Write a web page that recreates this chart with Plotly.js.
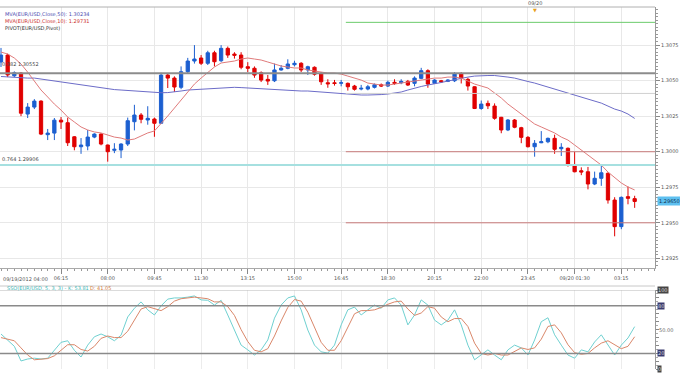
<!DOCTYPE html>
<html><head><meta charset="utf-8">
<script src="https://cdn.plot.ly/plotly-3.0.1.min.js"></script>
<style>html,body{margin:0;padding:0;background:#fff}#c{width:680px;height:374px}</style>
</head><body><div id="c"></div>
<script>
const tickIdx = [9,16,23,30,37,44,51,58,65,72,79,86,93];
const tickText = ['06:15','08:00','09:45','11:30','13:15','15:00','16:45','18:30','20:15','22:00','23:45','09/20 01:30','03:15'];
const firstLabel = '09/19/2012 04:00';
const priceTicks = [1.2925, 1.2950, 1.2975, 1.3000, 1.3025, 1.3050, 1.3075];

const openP = [1.30631,1.30680,1.30534,1.30553,1.30265,1.30314,1.30356,1.30120,1.30131,1.30222,
1.30204,1.30105,1.30035,1.30040,1.30103,1.30124,1.30047,1.30010,1.30012,1.30054,
1.30211,1.30258,1.30223,1.30230,1.30200,1.30539,1.30518,1.30453,1.30563,1.30638,
1.30659,1.30622,1.30696,1.30640,1.30727,1.30687,1.30680,1.30598,1.30587,1.30556,
1.30509,1.30499,1.30575,1.30587,1.30612,1.30622,1.30575,1.30594,1.30551,1.30485,
1.30485,1.30482,1.30481,1.30462,1.30441,1.30441,1.30453,1.30471,1.30462,1.30488,
1.30485,1.30495,1.30481,1.30516,1.30570,1.30481,1.30499,1.30495,1.30499,1.30546,
1.30509,1.30457,1.30304,1.30340,1.30321,1.30242,1.30153,1.30223,1.30169,1.30101,
1.30035,1.30063,1.30070,1.30094,1.30021,1.30024,1.29906,1.29866,1.29859,1.29773,
1.29813,1.29848,1.29660,1.29473,1.29684,1.29670];
const closeP = [1.30680,1.30540,1.30556,1.30271,1.30314,1.30356,1.30124,1.30131,1.30222,1.30209,
1.30063,1.30035,1.30047,1.30103,1.30124,1.30054,1.30000,1.30017,1.30054,1.30218,
1.30258,1.30228,1.30235,1.30200,1.30539,1.30518,1.30455,1.30563,1.30638,1.30652,
1.30622,1.30696,1.30633,1.30727,1.30680,1.30678,1.30594,1.30587,1.30539,1.30504,
1.30497,1.30575,1.30587,1.30617,1.30622,1.30575,1.30598,1.30545,1.30492,1.30478,
1.30480,1.30485,1.30457,1.30439,1.30446,1.30457,1.30471,1.30462,1.30488,1.30481,
1.30495,1.30469,1.30518,1.30570,1.30476,1.30504,1.30492,1.30504,1.30546,1.30516,
1.30462,1.30304,1.30335,1.30323,1.30235,1.30153,1.30223,1.30172,1.30101,1.30035,
1.30059,1.30070,1.30094,1.30017,1.30031,1.29906,1.29859,1.29857,1.29773,1.29813,
1.29852,1.29660,1.29473,1.29679,1.29672,1.29650];
const highP = [1.30730,1.30690,1.30565,1.30560,1.30342,1.30370,1.30362,1.30160,1.30237,1.30244,
1.30240,1.30110,1.30096,1.30153,1.30130,1.30130,1.30050,1.30060,1.30060,1.30240,
1.30330,1.30272,1.30320,1.30240,1.30555,1.30550,1.30530,1.30600,1.30660,1.30750,
1.30680,1.30710,1.30710,1.30750,1.30740,1.30700,1.30700,1.30630,1.30600,1.30565,
1.30540,1.30620,1.30610,1.30650,1.30640,1.30630,1.30605,1.30600,1.30560,1.30510,
1.30505,1.30505,1.30487,1.30470,1.30470,1.30470,1.30480,1.30480,1.30500,1.30510,
1.30510,1.30505,1.30530,1.30590,1.30580,1.30510,1.30505,1.30510,1.30560,1.30560,
1.30520,1.30460,1.30360,1.30360,1.30340,1.30245,1.30230,1.30230,1.30175,1.30110,
1.30082,1.30145,1.30100,1.30120,1.30060,1.30030,1.30000,1.29890,1.29893,1.29860,
1.29900,1.29855,1.29680,1.29685,1.29755,1.29690];
const lowP = [1.30596,1.30525,1.30525,1.30250,1.30237,1.30300,1.30117,1.30082,1.30082,1.30160,
1.30040,1.30010,1.29985,1.30010,1.30095,1.30045,1.29930,1.29990,1.29955,1.30040,
1.30150,1.30200,1.30190,1.30105,1.30195,1.30448,1.30420,1.30440,1.30550,1.30620,
1.30610,1.30610,1.30600,1.30630,1.30660,1.30655,1.30580,1.30560,1.30520,1.30490,
1.30470,1.30490,1.30570,1.30580,1.30600,1.30560,1.30540,1.30535,1.30470,1.30450,
1.30465,1.30460,1.30430,1.30430,1.30432,1.30432,1.30445,1.30455,1.30455,1.30470,
1.30475,1.30462,1.30460,1.30510,1.30450,1.30478,1.30485,1.30490,1.30490,1.30480,
1.30430,1.30300,1.30295,1.30300,1.30225,1.30130,1.30145,1.30165,1.30060,1.30030,
1.29965,1.30060,1.30060,1.29985,1.29970,1.29895,1.29855,1.29835,1.29735,1.29765,
1.29760,1.29635,1.29405,1.29455,1.29630,1.29605];
const ma10 = [1.30701,1.30687,1.30659,1.30617,1.30560,1.30497,1.30434,1.30385,1.30335,1.30293,
1.30244,1.30209,1.30174,1.30153,1.30139,1.30132,1.30117,1.30103,1.30096,1.30082,
1.30089,1.30110,1.30132,1.30146,1.30195,1.30251,1.30307,1.30364,1.30420,1.30476,
1.30518,1.30560,1.30596,1.30624,1.30631,1.30638,1.30652,1.30659,1.30652,1.30645,
1.30631,1.30617,1.30603,1.30596,1.30589,1.30589,1.30575,1.30568,1.30560,1.30553,
1.30553,1.30546,1.30532,1.30518,1.30504,1.30483,1.30476,1.30469,1.30469,1.30476,
1.30483,1.30490,1.30497,1.30504,1.30511,1.30518,1.30518,1.30525,1.30525,1.30518,
1.30497,1.30476,1.30462,1.30448,1.30413,1.30378,1.30335,1.30300,1.30265,1.30230,
1.30195,1.30174,1.30153,1.30132,1.30103,1.30082,1.30047,1.30012,1.29977,1.29942,
1.29906,1.29857,1.29815,1.29780,1.29752,1.29731];
const ma50 = [1.30529,1.30525,1.30525,1.30522,1.30518,1.30518,1.30511,1.30504,1.30497,1.30490,
1.30483,1.30476,1.30469,1.30462,1.30455,1.30448,1.30441,1.30437,1.30434,1.30430,
1.30427,1.30423,1.30420,1.30416,1.30415,1.30416,1.30420,1.30427,1.30434,1.30437,
1.30441,1.30444,1.30448,1.30451,1.30453,1.30453,1.30451,1.30448,1.30448,1.30444,
1.30441,1.30437,1.30434,1.30434,1.30430,1.30427,1.30427,1.30423,1.30420,1.30416,
1.30413,1.30409,1.30406,1.30402,1.30399,1.30399,1.30399,1.30402,1.30406,1.30413,
1.30420,1.30434,1.30448,1.30459,1.30469,1.30476,1.30487,1.30497,1.30508,1.30518,
1.30525,1.30532,1.30536,1.30536,1.30536,1.30532,1.30525,1.30518,1.30504,1.30494,
1.30483,1.30469,1.30455,1.30441,1.30427,1.30413,1.30399,1.30385,1.30371,1.30357,
1.30342,1.30321,1.30300,1.30286,1.30265,1.30234];
const stochK = [44.5,37,29,10.5,13,14,13,14,24,34,
36,24,15.5,30.5,41,44.5,41,36,43,66,
77,85,75,68.5,80,88.5,90,90,91,92.5,
87.5,87,81,87,68.5,49.5,30.5,24.5,18,24.5,
37,64.5,81,90,92.5,75,49.5,30.5,22,20.5,
30.5,56,75,78.5,68.5,75,81,77,87.5,90,
81,56,68.5,87.5,81,62,56,62,75,56,
30.5,12,18,24.5,18,12,24.5,30.5,27,18,
37,60,65,43.5,30.5,18,14,24.5,22,34.5,
43.5,30.5,18,30.5,39.5,53.81];
const stochD = [40,38,36,27,18,12,13,13.5,17,24,
31,31,25,23,29,39,42,40,40,48,
62,76,79,76,74,79,86,89,90,91,
90,89,85,85,79,68,50,35,24,22,
26,42,61,78,88,86,72,52,34,24,
24,36,54,70,74,74,75,78,82,85,
86,76,68,71,79,77,66,60,64,64,
54,33,20,18,20,18,18,22,27,25,
27,38,54,56,46,31,21,19,20,27,
33,36,31,26,29,41.05];
const fibLevels = [1.30552, 1.29906];
const fibNames = ['0.382', '0.764'];
const pivotLevels = [1.30910, 1.30410, 1.30000, 1.29500];
const lastPrice = 1.29650;

const idx = closeP.map((_, i) => i);
const W = 680, H = 374, PW = 655;
const px = x => x / PW, py = y => 1 - y / H;
const F = 'DejaVu Sans';

const traces = [
  {type:'candlestick', x:idx, open:openP, high:highP, low:lowP, close:closeP, xaxis:'x', yaxis:'y',
   increasing:{line:{color:'#1c5fd0',width:1}, fillcolor:'#1c5fd0'},
   decreasing:{line:{color:'#e00000',width:1}, fillcolor:'#e00000'},
   whiskerwidth:0, hoverinfo:'skip', showlegend:false},
  {type:'scatter', mode:'lines', x:idx, y:ma50, line:{color:'#6c6cc8',width:1}, xaxis:'x', yaxis:'y', showlegend:false},
  {type:'scatter', mode:'lines', x:idx, y:ma10, line:{color:'#e07b7b',width:1}, xaxis:'x', yaxis:'y', showlegend:false},
  {type:'scatter', mode:'lines', x:idx, y:stochK, line:{color:'#6fd0d0',width:1}, xaxis:'x2', yaxis:'y2', showlegend:false},
  {type:'scatter', mode:'lines', x:idx, y:stochD, line:{color:'#d9876a',width:1}, xaxis:'x2', yaxis:'y2', showlegend:false}
];

const xr = [-0.15, 98.05];
const shapes = [
  {type:'line', xref:'paper', yref:'paper', x0:0, x1:1, y0:py(7), y1:py(7), line:{color:'#b0b0b0',width:1}},
  {type:'line', xref:'paper', yref:'paper', x0:0, x1:1, y0:py(286), y1:py(286), line:{color:'#c8c8c8',width:1}},
  {type:'line', xref:'paper', yref:'y', x0:0, x1:1, y0:fibLevels[0], y1:fibLevels[0], line:{color:'#8c8c8c',width:2}},
  {type:'line', xref:'paper', yref:'y', x0:0, x1:1, y0:fibLevels[1], y1:fibLevels[1], line:{color:'#a6e0e0',width:2}},
  {type:'line', xref:'x', yref:'y', x0:51.7, x1:xr[1], y0:pivotLevels[0], y1:pivotLevels[0], line:{color:'#6ccc6c',width:1}},
  {type:'line', xref:'x', yref:'y', x0:51.7, x1:xr[1], y0:pivotLevels[1], y1:pivotLevels[1], line:{color:'#d0d0d0',width:1}},
  {type:'line', xref:'x', yref:'y', x0:51.7, x1:xr[1], y0:pivotLevels[2], y1:pivotLevels[2], line:{color:'#c87a7a',width:1}},
  {type:'line', xref:'x', yref:'y', x0:51.7, x1:xr[1], y0:pivotLevels[3], y1:pivotLevels[3], line:{color:'#c87a7a',width:1}},
  {type:'line', xref:'paper', yref:'y2', x0:0, x1:1, y0:80, y1:80, line:{color:'#8a8a8a',width:1.5}},
  {type:'line', xref:'paper', yref:'y2', x0:0, x1:1, y0:20, y1:20, line:{color:'#8a8a8a',width:1.5}},
  {type:'line', xref:'paper', yref:'y2', x0:0, x1:1, y0:100, y1:100, line:{color:'#b8b8b8',width:1}}
];

const ann = (x, y, text, color, extra) => Object.assign({xref:'paper', yref:'paper', x:px(x), y:py(y), text, showarrow:false,
  xanchor:'left', yanchor:'middle', font:{family:F, size:5, color}}, extra || {});
const annotations = [
  ann(3, 14, 'MVA(EUR/USD,Close,50): ' + ma50[ma50.length-1].toFixed(5), '#4a4ab0'),
  ann(3, 21, 'MVA(EUR/USD,Close,10): ' + ma10[ma10.length-1].toFixed(5), '#cc3030'),
  ann(3, 28, 'PIVOT(EUR/USD,Pivot)', '#303030'),
  {xref:'paper', yref:'y', x:0, y:fibLevels[0], yshift:4, text:fibNames[0] + ' ' + fibLevels[0].toFixed(5), showarrow:false, xanchor:'left', yanchor:'bottom', font:{family:F,size:5,color:'#444'}},
  {xref:'paper', yref:'y', x:0, y:fibLevels[1], yshift:1, text:fibNames[1] + ' ' + fibLevels[1].toFixed(5), showarrow:false, xanchor:'left', yanchor:'bottom', font:{family:F,size:5,color:'#444'}},
  ann(1, 279, firstLabel, '#555'),
  ann(535, 3, '09/20', '#555', {xanchor:'center'}),
  ann(535, 10, '▼', '#e8a020', {xanchor:'center', font:{family:F,size:5,color:'#e8a020'}}),
  {xref:'paper', yref:'y', x:px(657), y:lastPrice, text:lastPrice.toFixed(5), showarrow:false, xanchor:'left', yanchor:'middle',
   font:{family:F,size:5,color:'#103050'}, bgcolor:'#5ec0f0', borderpad:1},
  ann(5, 288, 'SSO(EUR/USD, 5, 3, 3) - K: ' + stochK[stochK.length-1].toFixed(2), '#3cb8b8'),
  ann(88, 288, 'D: ' + stochD[stochD.length-1].toFixed(2), '#d0773a'),
  {xref:'paper', yref:'y2', x:px(657), y:100, text:'100', showarrow:false, xanchor:'left', yanchor:'middle', font:{family:F,size:5,color:'#ddd'}, bgcolor:'#454545', borderpad:0},
  {xref:'paper', yref:'y2', x:px(657), y:80, text:'80', showarrow:false, xanchor:'left', yanchor:'middle', font:{family:F,size:5,color:'#ddd'}, bgcolor:'#3a3a6e', borderpad:0},
  {xref:'paper', yref:'y2', x:px(657), y:50, text:'50.00', showarrow:false, xanchor:'left', yanchor:'middle', font:{family:F,size:5,color:'#666'}},
  {xref:'paper', yref:'y2', x:px(657), y:20, text:'20', showarrow:false, xanchor:'left', yanchor:'middle', font:{family:F,size:5,color:'#ddd'}, bgcolor:'#3a3a6e', borderpad:0},
  {xref:'paper', yref:'y2', x:px(657), y:0, text:'0', showarrow:false, xanchor:'left', yanchor:'middle', font:{family:F,size:5,color:'#ddd'}, bgcolor:'#454545', borderpad:0}
];

const layout = {
  width:W, height:H, margin:{l:0, r:W-PW, t:0, b:0},
  paper_bgcolor:'#fff', plot_bgcolor:'#fff', showlegend:false, dragmode:false,
  xaxis:{domain:[0,1], range:xr, anchor:'y', tickmode:'array', tickvals:tickIdx, ticktext:tickText,
    ticks:'outside', ticklen:5, tickcolor:'#888', tickfont:{family:F,size:5,color:'#555'},
    showgrid:true, gridcolor:'#e8e8e8', zeroline:false, showline:true, linecolor:'#aaa',
    minor:{tickmode:'linear', tick0:0, dtick:1, ticks:'outside', ticklen:2, tickcolor:'#999', showgrid:false},
    rangeslider:{visible:false}, fixedrange:true},
  yaxis:{domain:[py(268), py(7)], range:[1.29182, 1.31018], side:'right', anchor:'x',
    tickmode:'array', tickvals:priceTicks, ticktext:priceTicks.map(v => v.toFixed(4)), ticks:'outside', ticklen:4, tickcolor:'#888',
    tickfont:{family:F,size:5,color:'#555'}, showgrid:true, gridcolor:'#e8e8e8', zeroline:false,
    showline:true, linecolor:'#999', minor:{tickmode:'linear', tick0:1.3, dtick:0.00025, ticks:'outside', ticklen:2, tickcolor:'#999', showgrid:false}, fixedrange:true},
  xaxis2:{domain:[0,1], range:xr, anchor:'y2', tickmode:'array', tickvals:tickIdx, showticklabels:false, ticks:'',
    showgrid:true, gridcolor:'#ececec', zeroline:false, showline:false, fixedrange:true},
  yaxis2:{domain:[py(369.3), py(290)], range:[0,100], side:'right', anchor:'x2', tickmode:'linear', tick0:0, dtick:10,
    showticklabels:false, ticks:'outside', ticklen:3, tickcolor:'#888', showgrid:false, zeroline:false,
    showline:true, linecolor:'#999', minor:{tickmode:'linear', tick0:0, dtick:5, ticks:'outside', ticklen:2, tickcolor:'#aaa'}, fixedrange:true},
  shapes, annotations
};
Plotly.newPlot('c', traces, layout, {displayModeBar:false, staticPlot:true});
</script></body></html>
